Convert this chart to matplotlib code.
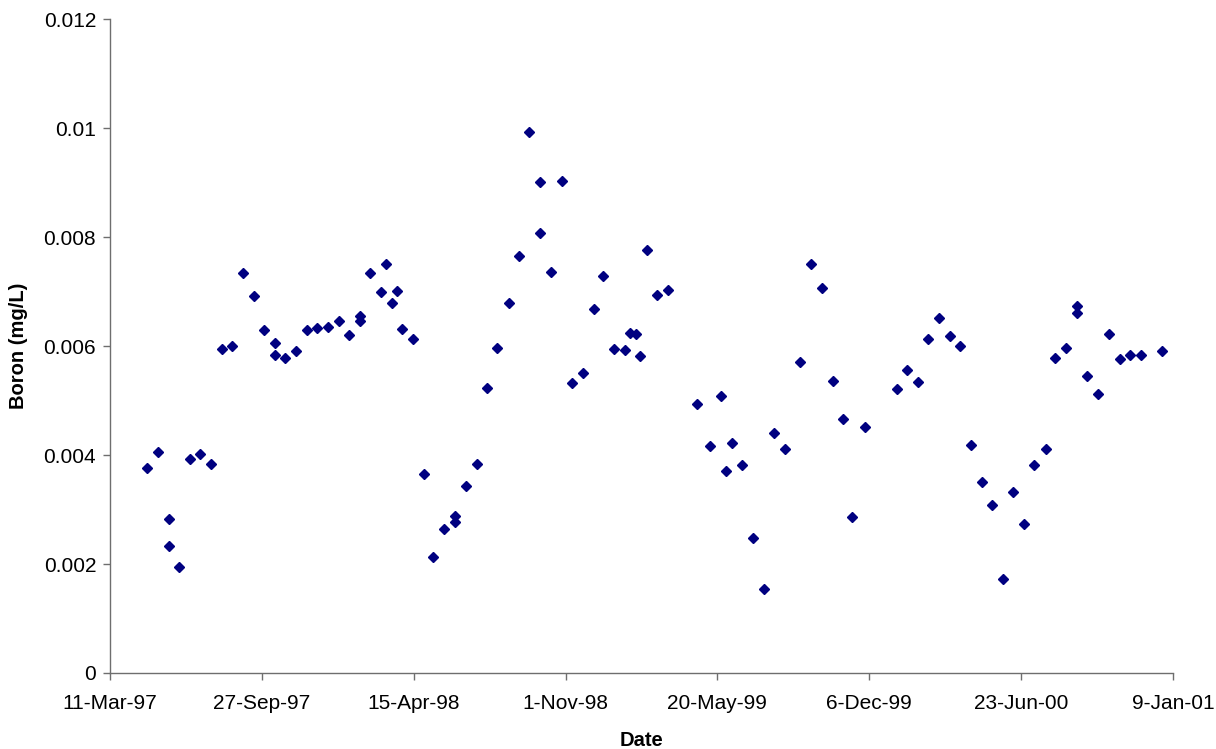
import matplotlib
matplotlib.use('Agg')
import matplotlib.pyplot as plt
import matplotlib.dates as mdates
import matplotlib.ticker as mticker
import pandas as pd

plt.rcParams['font.family'] = ['Liberation Sans', 'DejaVu Sans']

# sampling dates and boron readings
sample_dates = [
    '1997-04-29', '1997-05-13', '1997-05-27', '1997-05-27', '1997-06-10', '1997-06-24',
    '1997-07-08', '1997-07-22', '1997-08-05', '1997-08-19', '1997-09-02', '1997-09-16',
    '1997-09-30', '1997-10-14', '1997-10-14', '1997-10-28', '1997-11-11', '1997-11-25',
    '1997-12-09', '1997-12-23', '1998-01-06', '1998-01-20', '1998-02-03', '1998-02-03',
    '1998-02-16', '1998-03-03', '1998-03-10', '1998-03-17', '1998-03-24', '1998-03-31',
    '1998-04-14', '1998-04-28', '1998-05-11', '1998-05-25', '1998-06-09', '1998-06-09',
    '1998-06-23', '1998-07-07', '1998-07-21', '1998-08-03', '1998-08-18', '1998-09-01',
    '1998-09-14', '1998-09-29', '1998-09-29', '1998-10-13', '1998-10-27', '1998-11-10',
    '1998-11-24', '1998-12-08', '1998-12-21', '1999-01-04', '1999-01-19', '1999-01-25',
    '1999-02-02', '1999-02-07', '1999-02-16', '1999-03-02', '1999-03-16', '1999-04-23',
    '1999-05-10', '1999-05-25', '1999-06-01', '1999-06-08', '1999-06-22', '1999-07-06',
    '1999-07-20', '1999-08-03', '1999-08-17', '1999-09-06', '1999-09-21', '1999-10-05',
    '1999-10-19', '1999-11-02', '1999-11-14', '1999-11-30', '2000-01-11', '2000-01-25',
    '2000-02-08', '2000-02-21', '2000-03-07', '2000-03-21', '2000-04-04', '2000-04-18',
    '2000-05-02', '2000-05-16', '2000-05-30', '2000-06-13', '2000-06-27', '2000-07-10',
    '2000-07-26', '2000-08-07', '2000-08-21', '2000-09-05', '2000-09-05', '2000-09-18',
    '2000-10-03', '2000-10-17', '2000-10-31', '2000-11-14', '2000-11-28', '2000-12-26',
]

boron = [
    0.00377, 0.00406, 0.00282, 0.00234, 0.00195, 0.00392,
    0.00402, 0.00384, 0.00594, 0.00600, 0.00734, 0.00692,
    0.00629, 0.00605, 0.00583, 0.00578, 0.00592, 0.00629,
    0.00634, 0.00635, 0.00646, 0.00621, 0.00656, 0.00647,
    0.00734, 0.00699, 0.00750, 0.00679, 0.00701, 0.00631,
    0.00614, 0.00366, 0.00213, 0.00264, 0.00288, 0.00278,
    0.00343, 0.00384, 0.00524, 0.00597, 0.00680, 0.00766,
    0.00993, 0.00902, 0.00807, 0.00736, 0.00903, 0.00533,
    0.00550, 0.00668, 0.00729, 0.00594, 0.00593, 0.00624,
    0.00622, 0.00581, 0.00776, 0.00693, 0.00704, 0.00494,
    0.00416, 0.00509, 0.00370, 0.00423, 0.00381, 0.00247,
    0.00155, 0.00441, 0.00411, 0.00570, 0.00750, 0.00707,
    0.00536, 0.00467, 0.00286, 0.00451, 0.00521, 0.00556,
    0.00535, 0.00613, 0.00651, 0.00619, 0.00600, 0.00419,
    0.00351, 0.00308, 0.00173, 0.00332, 0.00273, 0.00381,
    0.00411, 0.00578, 0.00596, 0.00674, 0.00660, 0.00546,
    0.00513, 0.00622, 0.00576, 0.00584, 0.00584, 0.00591,
]

axis_start = '1997-03-11'
axis_end = '2001-01-09'
tick_step_days = 200

dates = pd.to_datetime(sample_dates)
x_ticks = pd.date_range(axis_start, axis_end, freq='%dD' % tick_step_days)

fig = plt.figure(figsize=(12.16, 7.49), dpi=100)
ax = fig.add_axes([0.0905, 0.1015, 0.874, 0.8727])

ax.plot(dates, boron, linestyle='none', marker='D', markersize=5.3,
        color='#000080', markeredgecolor='#000080')

ax.set_xlim(pd.Timestamp(axis_start), pd.Timestamp(axis_end))
ax.set_ylim(0, 0.012)
ax.set_xticks(x_ticks)
ax.xaxis.set_major_formatter(mdates.DateFormatter('%-d-%b-%y'))
ax.yaxis.set_major_locator(mticker.MultipleLocator(0.002))
ax.yaxis.set_major_formatter(mticker.FuncFormatter(lambda v, p: '%g' % round(v, 4)))

for side in ['top', 'right']:
    ax.spines[side].set_visible(False)
for side in ['left', 'bottom']:
    ax.spines[side].set_color('#6e6e6e')
    ax.spines[side].set_linewidth(1.0)

ax.tick_params(axis='both', direction='out', length=5, width=1, color='#6e6e6e',
               labelsize=15, labelcolor='black')
ax.tick_params(axis='x', pad=10)
ax.tick_params(axis='y', pad=5)

ax.set_xlabel('Date', fontsize=14.5, fontweight='bold', labelpad=13)
ax.set_ylabel('Boron (mg/L)', fontsize=14.5, fontweight='bold', labelpad=11)

fig.savefig('out.png', dpi=100)
